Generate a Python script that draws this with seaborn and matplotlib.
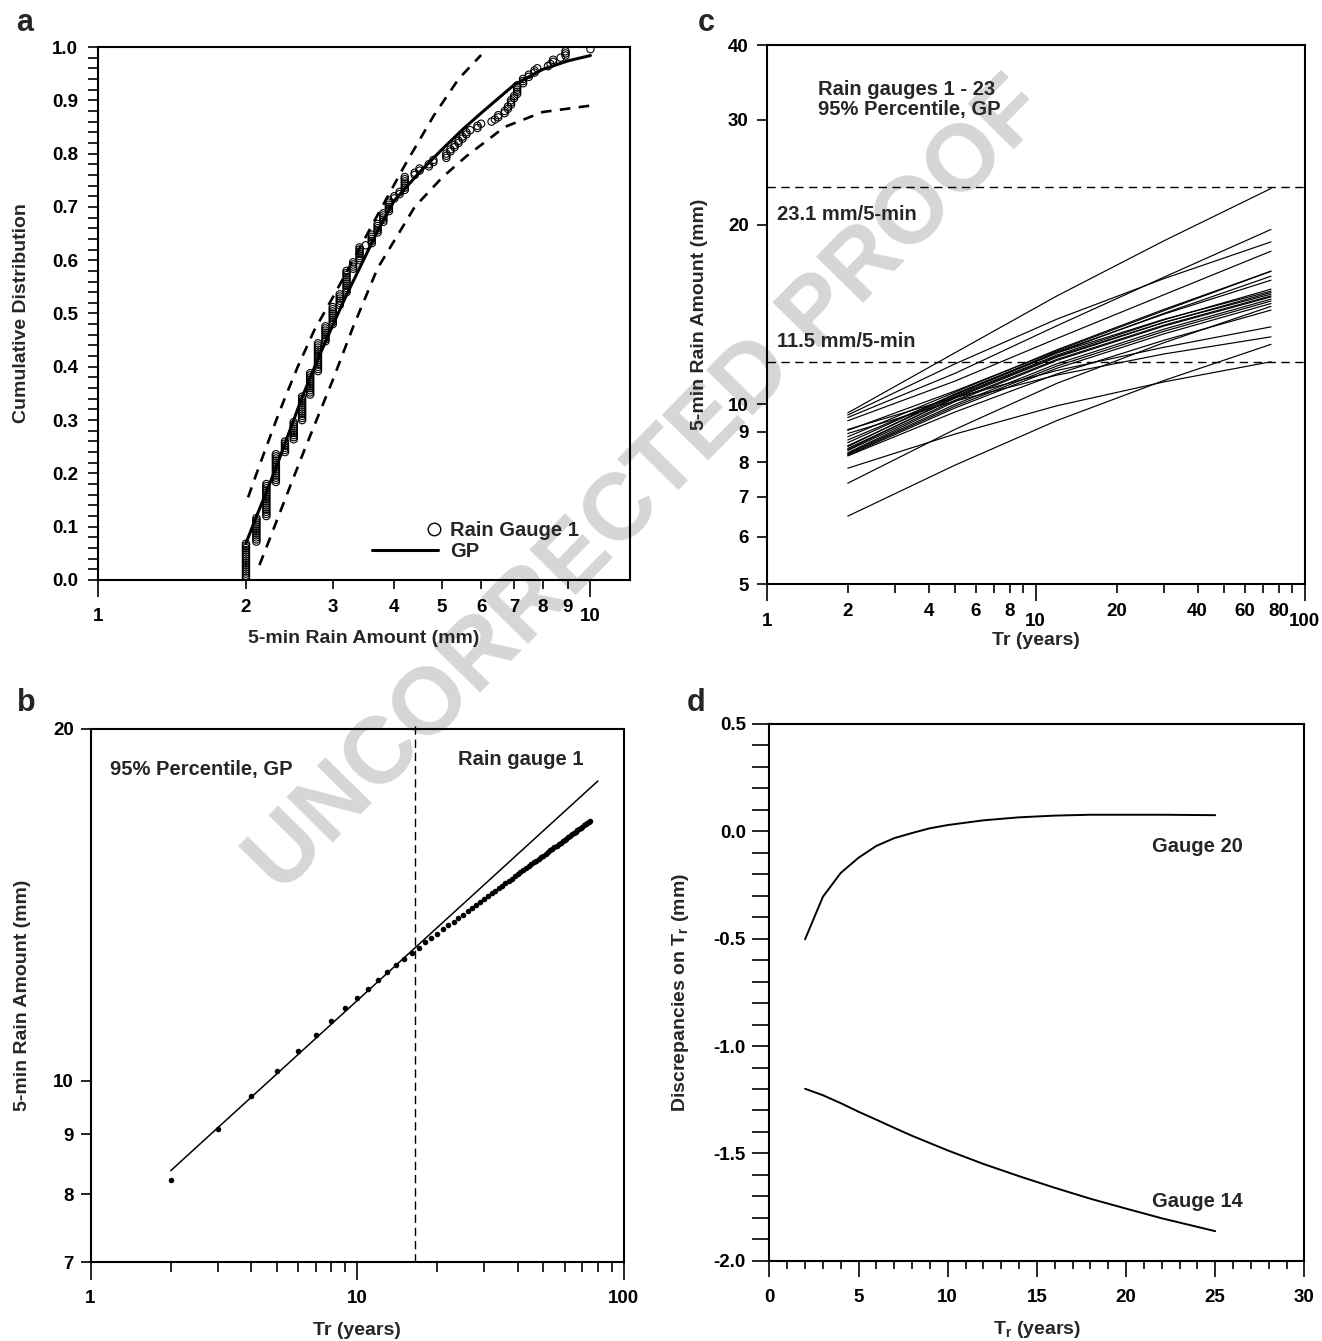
import numpy as np
import pandas as pd
import seaborn as sns
import matplotlib.pyplot as plt
from matplotlib.lines import Line2D
from matplotlib.legend_handler import HandlerLine2D

# ---------------- data ----------------
# (a) rain gauge 1: observed 5-min amounts (mm) and how often each occurs
rain_mm = [2.0, 2.1, 2.2, 2.3, 2.4, 2.5, 2.6, 2.7, 2.8, 2.9, 3.0, 3.1, 3.2, 3.3, 3.4,
           3.5, 3.6, 3.7, 3.8, 3.9, 4.0, 4.1, 4.2, 4.4, 4.5, 4.7, 4.8, 5.1, 5.2, 5.3,
           5.4, 5.5, 5.6, 5.7, 5.9, 6.0, 6.3, 6.4, 6.5, 6.7, 6.8, 6.9, 7.0, 7.1, 7.3,
           7.5, 7.7, 7.8, 8.2, 8.3, 8.4, 8.7, 8.9, 10.0]
n_obs = [17, 12, 16, 14, 6, 9, 12, 11, 14, 8, 9, 6, 11, 4, 7,
         1, 5, 5, 5, 6, 2, 2, 7, 2, 2, 2, 2, 3, 2, 2,
         2, 2, 2, 1, 2, 1, 1, 1, 2, 2, 2, 3, 2, 5, 3,
         2, 2, 1, 1, 1, 2, 1, 3, 1]
gp_mm = [2.0, 2.1, 2.2, 2.3, 2.4, 2.5, 2.6, 2.8, 3.0, 3.2, 3.4, 3.7, 4.0, 4.5, 5.0,
         5.5, 6.0, 7.0, 8.0, 9.0, 10.0]
gp_cdf = [0.069, 0.119, 0.165, 0.21, 0.256, 0.30, 0.343, 0.415, 0.478, 0.535, 0.585,
          0.655, 0.712, 0.765, 0.808, 0.845, 0.876, 0.929, 0.958, 0.974, 0.984]
upper_mm = [2.02, 2.1, 2.2, 2.3, 2.4, 2.55, 2.75, 3.0, 3.3, 3.7, 4.2, 4.8, 5.4, 6.0]
upper_cdf = [0.155, 0.199, 0.25, 0.298, 0.342, 0.401, 0.468, 0.53, 0.60, 0.685, 0.778,
             0.87, 0.94, 0.985]
lower_mm = [2.13, 2.2, 2.3, 2.4, 2.5, 2.6, 2.75, 3.0, 3.3, 3.7, 4.4, 5.0, 5.6, 6.7, 8.0, 10.0]
lower_cdf = [0.028, 0.061, 0.107, 0.151, 0.193, 0.233, 0.289, 0.375, 0.475, 0.585, 0.70,
             0.755, 0.795, 0.85, 0.878, 0.89]

# (b) 95% percentile, GP, rain gauge 1
tr_b = list(range(2, 76))
rain_b = [8.23, 9.09, 9.71, 10.20, 10.60, 10.95, 11.26, 11.53, 11.77, 11.99, 12.19, 12.39,
          12.56, 12.71, 12.87, 13.00, 13.13, 13.25, 13.36, 13.47, 13.58, 13.68, 13.78,
          13.87, 13.96, 14.05, 14.14, 14.22, 14.30, 14.38, 14.46, 14.53, 14.61, 14.68,
          14.75, 14.82, 14.88, 14.95, 15.01, 15.07, 15.13, 15.19, 15.25, 15.31, 15.37,
          15.42, 15.48, 15.53, 15.58, 15.64, 15.69, 15.74, 15.79, 15.84, 15.88, 15.93,
          15.98, 16.02, 16.07, 16.11, 16.16, 16.20, 16.24, 16.29, 16.33, 16.37, 16.41,
          16.45, 16.49, 16.53, 16.57, 16.61, 16.65, 16.68]
fit_tr = [2, 80]
fit_mm = [8.38, 18.04]
tr_split = 16.5

# (c) rain gauges 1 - 23, amount at Tr = 2, 5, 12, 30, 75 years
tr_c = [2, 5, 12, 30, 75]
mm_tr2 = [9.68, 9.60, 9.51, 9.39, 9.08, 9.05, 8.94, 8.83, 8.72, 8.63, 8.53, 8.50,
          8.44, 8.40, 8.37, 8.30, 8.28, 8.25, 8.22, 8.20, 7.82, 7.38, 6.50]
mm_tr5 = [12.20, 11.69, 11.27, 10.94, 10.27, 10.53, 10.13, 10.48, 10.37, 10.41, 10.32, 10.40,
          10.24, 10.28, 10.16, 10.11, 10.00, 9.93, 9.86, 9.71, 8.92, 9.08, 7.91]
mm_tr12 = [15.20, 13.90, 13.55, 12.90, 11.40, 12.30, 11.20, 12.35, 12.20, 12.25, 12.10, 12.20,
           12.00, 12.05, 11.90, 11.85, 11.70, 11.60, 11.50, 11.25, 9.95, 10.85, 9.40]
mm_tr30 = [18.80, 16.25, 16.34, 15.27, 12.47, 14.36, 12.15, 14.43, 14.21, 14.17, 13.86, 13.89,
           13.72, 13.73, 13.58, 13.53, 13.37, 13.26, 13.13, 12.81, 10.91, 12.69, 10.97]
mm_tr75 = [23.00, 18.72, 19.64, 18.06, 13.49, 16.72, 12.98, 16.72, 16.40, 16.15, 15.60, 15.48,
           15.40, 15.30, 15.20, 15.14, 15.01, 14.90, 14.76, 14.39, 11.79, 14.60, 12.61]
upper_level = 23.1
lower_level = 11.8

# (d) discrepancies on Tr
tr_d = [2, 3, 4, 5, 6, 7, 8, 9, 10, 12, 14, 16, 18, 20, 22, 25]
disc_g20 = [-0.503, -0.305, -0.194, -0.123, -0.068, -0.032, -0.008, 0.014, 0.029, 0.051,
            0.065, 0.073, 0.077, 0.077, 0.077, 0.075]
disc_g14 = [-1.199, -1.229, -1.266, -1.306, -1.343, -1.381, -1.418, -1.452, -1.486, -1.549,
            -1.606, -1.660, -1.711, -1.757, -1.802, -1.862]

# ---------------- style ----------------
sns.set_theme(style="ticks")
plt.rcParams.update({
    "font.family": ["Liberation Sans", "DejaVu Sans"],
    "font.weight": "bold",
    "axes.labelweight": "bold",
    "axes.labelsize": 14,
    "axes.linewidth": 1.5,
    "axes.edgecolor": "black",
    "axes.unicode_minus": False,
    "xtick.color": "black",
    "ytick.color": "black",
    "xtick.labelsize": 13.5,
    "ytick.labelsize": 13.5,
    "mathtext.fontset": "custom",
    "mathtext.rm": "Liberation Sans:bold",
    "mathtext.bf": "Liberation Sans:bold",
    "mathtext.it": "Liberation Sans:bold",
})
TXT = 14.5

W, H = 1322, 1341
fig = plt.figure(figsize=(W / 100, H / 100), dpi=100)


def px_axes(left, top, right, bottom):
    ax = fig.add_axes([left / W, 1 - bottom / H, (right - left) / W, (bottom - top) / H])
    ax.patch.set_alpha(0)
    return ax


# legend marker sits at the right end of the handle, like the original
class RightMarker(HandlerLine2D):
    def get_xdata(self, legend, xdescent, ydescent, width, height, fontsize):
        xm = -xdescent + width - 3.0
        return np.array([xm - 1.0, xm + 1.0]), np.array([xm])


ax_a = px_axes(97.6, 47, 630, 580)
ax_c = px_axes(766.8, 45, 1304.6, 584.2)
ax_b = px_axes(90.5, 728.6, 623.7, 1262.1)
ax_d = px_axes(769.4, 723.9, 1304.4, 1260.8)

for ax in (ax_a, ax_b, ax_c, ax_d):
    ax.tick_params(which="both", direction="out", width=1.2, top=False, right=False)

# ---------------- (a) ----------------
obs = np.repeat(rain_mm, n_obs)
cdf_obs = np.arange(1, len(obs) + 1) / (len(obs) + 1)
sns.scatterplot(x=obs, y=cdf_obs, ax=ax_a, marker="o", s=28, facecolors="none",
                edgecolor="black", linewidth=0.8, zorder=3)
sns.lineplot(x=gp_mm, y=gp_cdf, ax=ax_a, color="black", lw=2.2, zorder=4)
for xs, ys in ((upper_mm, upper_cdf), (lower_mm, lower_cdf)):
    sns.lineplot(x=xs, y=ys, ax=ax_a, color="black", lw=1.9, dashes=False,
                 linestyle=(0, (4, 3.2)))
ax_a.set_xscale("log")
ax_a.set_xlim(1, 12.03)
ax_a.set_ylim(0, 1)
ax_a.set_xticks([1, 10])
ax_a.set_xticklabels(["1", "10"])
ax_a.set_xticks([2, 3, 4, 5, 6, 7, 8, 9], minor=True)
ax_a.set_xticklabels([str(v) for v in range(2, 10)], minor=True)
ax_a.set_yticks(np.round(np.arange(0, 1.01, 0.1), 1))
ax_a.set_yticklabels([f"{v:.1f}" for v in np.arange(0, 1.01, 0.1)])
ax_a.set_yticks(np.arange(0, 1.001, 0.02), minor=True)
ax_a.tick_params(axis="x", which="major", length=12, pad=8.5)
ax_a.tick_params(axis="x", which="minor", length=6.5, pad=7, labelsize=13.5)
ax_a.tick_params(axis="y", which="both", length=7, pad=7)
ax_a.set_xlabel("5-min Rain Amount (mm)")
ax_a.set_ylabel("Cumulative Distribution")
ax_a.xaxis.set_label_coords(0.5, -0.094)
ax_a.yaxis.set_label_coords(-0.127, 0.5)
circle_h = Line2D([], [], marker="o", ls="none", mfc="none", mec="black", ms=9, mew=1.0)
line_h = Line2D([], [], color="black", lw=2.2)
ax_a.legend([circle_h, line_h], ["Rain Gauge 1", "GP"], loc="lower left",
            bbox_to_anchor=(0.515, 0.036), frameon=False, borderpad=0, borderaxespad=0,
            handlelength=3.3, handletextpad=0.6, labelspacing=0.1,
            handler_map={circle_h: RightMarker(numpoints=1)},
            prop={"size": 14.5, "weight": "bold"})

# ---------------- (b) ----------------
sns.lineplot(x=fit_tr, y=fit_mm, ax=ax_b, color="black", lw=1.1)
sns.scatterplot(x=tr_b, y=rain_b, ax=ax_b, color="black", s=16, linewidth=0, zorder=3)
ax_b.axvline(tr_split, color="black", lw=1.0, linestyle=(0, (6, 3.5)), ymax=1.01,
             clip_on=False)
ax_b.set_xscale("log")
ax_b.set_yscale("log")
ax_b.set_xlim(1, 100)
ax_b.set_ylim(7, 20)
ax_b.set_xticks([1, 10, 100])
ax_b.set_xticklabels(["1", "10", "100"])
ax_b.set_xticks([v * d for d in (1, 10) for v in range(2, 10)], minor=True)
ax_b.set_xticklabels([], minor=True)
ax_b.set_yticks([7, 8, 9, 10, 20])
ax_b.set_yticklabels(["7", "8", "9", "10", "20"])
ax_b.set_yticks([], minor=True)
ax_b.tick_params(axis="x", which="major", length=13, pad=7)
ax_b.tick_params(axis="x", which="minor", length=7)
ax_b.tick_params(axis="y", which="major", length=7, pad=5)
ax_b.set_xlabel("Tr (years)")
ax_b.set_ylabel("5-min Rain Amount (mm)")
ax_b.xaxis.set_label_coords(0.5, -0.112)
ax_b.yaxis.set_label_coords(-0.112, 0.5)
ax_b.text(0.037, 0.923, "95% Percentile, GP", transform=ax_b.transAxes, fontsize=TXT,
          fontweight="bold", va="center", ha="left")
ax_b.text(0.689, 0.943, "Rain gauge 1", transform=ax_b.transAxes, fontsize=TXT,
          fontweight="bold", va="center", ha="left")

# ---------------- (c) ----------------
gauges = np.arange(1, len(mm_tr2) + 1)
df_c = pd.DataFrame({"gauge": gauges, 2: mm_tr2, 5: mm_tr5, 12: mm_tr12, 30: mm_tr30,
                     75: mm_tr75}).melt(id_vars="gauge", var_name="Tr", value_name="mm")
df_c["Tr"] = df_c["Tr"].astype(float)
sns.lineplot(data=df_c, x="Tr", y="mm", units="gauge", estimator=None, ax=ax_c,
             color="black", lw=0.85)
for lvl in (upper_level, lower_level):
    ax_c.axhline(lvl, color="black", lw=1.0, linestyle=(0, (6, 4)))
ax_c.set_xscale("log")
ax_c.set_yscale("log")
ax_c.set_xlim(1, 100)
ax_c.set_ylim(5, 40)
ax_c.set_xticks([1, 10, 100])
ax_c.set_xticklabels(["1", "10", "100"])
minor_c = [v * d for d in (1, 10) for v in range(2, 10)]
ax_c.set_xticks(minor_c, minor=True)
ax_c.set_xticklabels([str(v) if v in (2, 4, 6, 8, 20, 40, 60, 80) else "" for v in minor_c],
                     minor=True)
ax_c.set_yticks([5, 6, 7, 8, 9, 10, 20, 30, 40])
ax_c.set_yticklabels(["5", "6", "7", "8", "9", "10", "20", "30", "40"])
ax_c.set_yticks([], minor=True)
ax_c.tick_params(axis="x", which="major", length=12, pad=8.5)
ax_c.tick_params(axis="x", which="minor", length=6.5, pad=7, labelsize=13.5)
ax_c.tick_params(axis="y", which="major", length=7, pad=6)
ax_c.set_xlabel("Tr (years)")
ax_c.set_ylabel("5-min Rain Amount (mm)")
ax_c.xaxis.set_label_coords(0.5, -0.088)
ax_c.yaxis.set_label_coords(-0.109, 0.5)
ax_c.text(0.095, 0.935, "Rain gauges 1 - 23\n95% Percentile, GP", transform=ax_c.transAxes,
          fontsize=TXT, fontweight="bold", va="top", ha="left", linespacing=1.05)
ax_c.text(0.0195, 0.6855, "23.1 mm/5-min", transform=ax_c.transAxes, fontsize=TXT,
          fontweight="bold", va="center", ha="left")
ax_c.text(0.0195, 0.4497, "11.5 mm/5-min", transform=ax_c.transAxes, fontsize=TXT,
          fontweight="bold", va="center", ha="left")

# ---------------- (d) ----------------
sns.lineplot(x=tr_d, y=disc_g20, ax=ax_d, color="black", lw=1.4)
sns.lineplot(x=tr_d, y=disc_g14, ax=ax_d, color="black", lw=1.4)
ax_d.set_xlim(0, 30)
ax_d.set_ylim(-2.0, 0.5)
ax_d.set_xticks(range(0, 31, 5))
ax_d.set_xticks(range(0, 31), minor=True)
ax_d.set_yticks(np.round(np.arange(-2.0, 0.51, 0.5), 1))
ax_d.set_yticklabels([f"{v:.1f}" for v in np.arange(-2.0, 0.51, 0.5)])
ax_d.set_yticks(np.round(np.arange(-2.0, 0.51, 0.1), 1), minor=True)
ax_d.tick_params(axis="x", which="major", length=11.5, pad=9)
ax_d.tick_params(axis="x", which="minor", length=6)
ax_d.tick_params(axis="y", which="both", length=12, pad=5)
ax_d.set_xlabel(r"$\mathbf{T_r}$ (years)")
ax_d.set_ylabel(r"Discrepancies on $\mathbf{T_r}$ (mm)")
ax_d.xaxis.set_label_coords(0.5, -0.108)
ax_d.yaxis.set_label_coords(-0.146, 0.5)
ax_d.text(24.0, -0.072, "Gauge 20", fontsize=TXT, fontweight="bold", ha="center", va="center")
ax_d.text(24.0, -1.725, "Gauge 14", fontsize=TXT, fontweight="bold", ha="center", va="center")

# ---------------- panel letters and watermark ----------------
for letter, (x, y) in {"a": (25, 23), "c": (706, 23), "b": (26, 703), "d": (696, 703)}.items():
    fig.text(x / W, 1 - y / H, letter, fontsize=22, fontweight="bold", ha="center", va="center")

fig.text(648 / W, 1 - 487 / H, "UNCORRECTED PROOF", fontsize=68, fontweight="bold",
         color="#d6d6d6", rotation=45.5, ha="center", va="center", zorder=-5)

fig.savefig("out.png", dpi=100)
